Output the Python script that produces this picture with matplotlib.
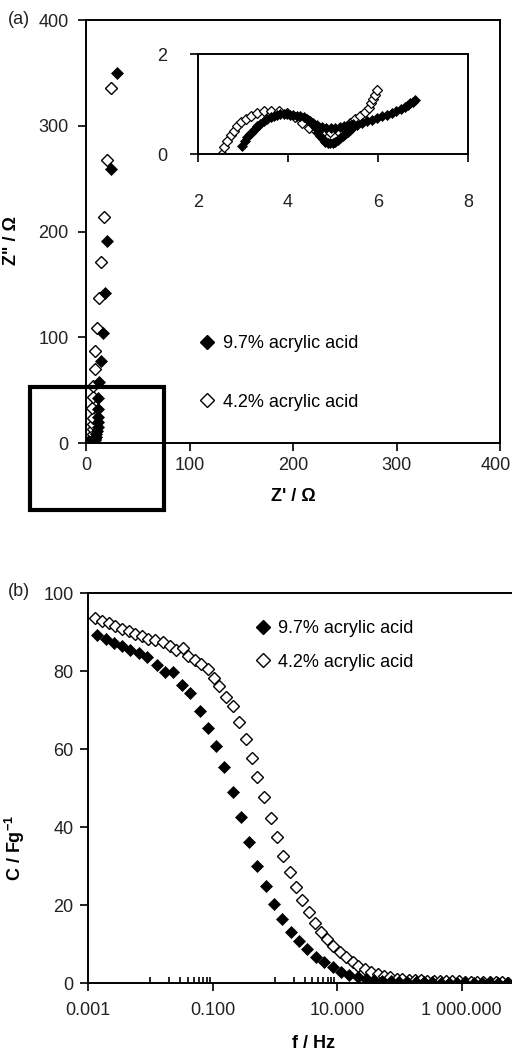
import numpy as np
import matplotlib.pyplot as plt
from matplotlib.patches import Rectangle
from matplotlib.ticker import FixedLocator, NullFormatter
from matplotlib.transforms import ScaledTranslation

plt.rcParams['font.family'] = ['Liberation Sans', 'DejaVu Sans']
plt.rcParams['font.size'] = 13
plt.rcParams['mathtext.fontset'] = 'custom'
plt.rcParams['mathtext.rm'] = 'Liberation Sans'
plt.rcParams['mathtext.bf'] = 'Liberation Sans:bold'

labels = ['9.7% acrylic acid', '4.2% acrylic acid']

# (a) Nyquist data, Z' and Z'' in ohm
z_re_97 = [2.98, 3.04, 3.09, 3.15, 3.20, 3.26, 3.31, 3.38, 3.46, 3.53, 3.61, 3.68, 3.76, 3.83,
           3.90, 3.97, 4.05, 4.12, 4.20, 4.27, 4.35, 4.42, 4.49, 4.55, 4.61, 4.67, 4.72, 4.78,
           4.83, 4.88, 4.94, 5.00, 5.05, 5.10, 5.16, 5.22, 5.27, 5.33, 5.38, 5.45, 5.53, 5.64,
           5.75, 5.86, 5.97, 6.08, 6.19, 6.30, 6.41, 6.51, 6.60, 6.66, 6.71, 6.77, 6.82,
           4.45, 4.55, 4.65, 4.75, 4.85, 4.95, 5.05, 5.15, 5.25, 5.35, 5.45,
           8.2, 8.8, 9.4, 10.0, 10.6, 11.2, 11.6, 11.8, 11.8, 11.9, 12.9, 14.5, 16.7,
           18.4, 20.6, 24.2, 29.6]
z_im_97 = [0.17, 0.27, 0.35, 0.41, 0.45, 0.51, 0.56, 0.61, 0.66, 0.71, 0.75, 0.77, 0.79, 0.80,
           0.81, 0.80, 0.79, 0.78, 0.77, 0.76, 0.74, 0.71, 0.66, 0.59, 0.52, 0.44, 0.37, 0.30,
           0.25, 0.23, 0.22, 0.23, 0.25, 0.28, 0.32, 0.36, 0.41, 0.45, 0.49, 0.54, 0.59, 0.62,
           0.66, 0.69, 0.73, 0.76, 0.79, 0.82, 0.86, 0.90, 0.94, 0.98, 1.02, 1.05, 1.08,
           0.68, 0.62, 0.58, 0.55, 0.53, 0.52, 0.53, 0.54, 0.56, 0.58, 0.60,
           2.6, 4.0, 6.0, 8.5, 11.5, 15.5, 20, 25, 32, 42.8, 57.4, 77.5, 104,
           141.5, 191, 259, 350]

z_re_42 = [2.52, 2.58, 2.65, 2.72, 2.80, 2.87, 2.96, 3.06, 3.17, 3.30, 3.46, 3.62, 3.79, 3.98,
           4.16, 4.31, 4.46, 4.62, 4.78, 4.94, 5.10, 5.25, 5.38, 5.49, 5.60, 5.71, 5.79, 5.84,
           5.88, 5.93, 5.97,
           6.6, 6.8, 6.9, 7.0, 7.0, 7.0, 6.5, 6.2, 6.3, 7.1, 8.4, 9.0, 10.3, 12.2, 14.5,
           17.4, 20.6, 24.2]
z_im_42 = [0.00, 0.15, 0.27, 0.39, 0.47, 0.56, 0.64, 0.71, 0.77, 0.83, 0.86, 0.87, 0.86, 0.83,
           0.75, 0.62, 0.52, 0.47, 0.44, 0.44, 0.47, 0.53, 0.62, 0.71, 0.76, 0.84, 0.93, 1.02,
           1.10, 1.19, 1.28,
           2.8, 4.2, 6.0, 9.0, 13, 18, 24, 33, 44, 54, 69.7, 87, 108.5, 137, 171,
           214, 268, 336]

# (b) capacitance vs frequency
f_97 = [0.00139, 0.00191, 0.00257, 0.00355, 0.00479, 0.00646, 0.00891, 0.0129, 0.0170, 0.0234,
        0.0324, 0.0437, 0.0617, 0.0832, 0.115, 0.155, 0.209, 0.282, 0.389, 0.525, 0.724, 0.977,
        1.32, 1.82, 2.45, 3.31, 4.57, 6.17, 8.51, 11.5, 15.5, 21.4, 28.8, 38.9, 52.5, 72.4,
        97.7, 132, 182, 245, 331, 457, 617, 832, 1148, 1549, 2089, 2884, 3890, 5248, 7244, 9772]
c_97 = [89.2, 88.3, 87.2, 86.3, 85.5, 84.6, 83.6, 81.5, 79.8, 79.8, 76.4, 74.4, 69.8, 65.5,
        60.8, 55.5, 49.1, 42.7, 36.1, 30.1, 25.0, 20.3, 16.5, 13.2, 10.9, 8.8, 6.8, 5.3, 4.0,
        2.9, 2.0, 1.5, 1.0, 0.7, 0.5, 0.4, 0.3, 0.3, 0.2, 0.2, 0.2, 0.1, 0.1, 0.1, 0.1, 0.0,
        0.0, 0.0, 0.0, 0.0, -0.1, -0.1]

f_42 = [0.00128, 0.00166, 0.00214, 0.00275, 0.00355, 0.00447, 0.00575, 0.00741, 0.00933,
        0.0120, 0.0162, 0.0209, 0.0263, 0.0331, 0.0407, 0.0525, 0.0661, 0.0832, 0.105, 0.129,
        0.166, 0.209, 0.269, 0.347, 0.437, 0.525, 0.661, 0.851, 1.07, 1.35, 1.74, 2.19, 2.69,
        3.47, 4.37, 5.50, 6.92, 8.71, 11.2, 13.8, 17.8, 21.9, 28.2, 35.5, 44.7, 56.2, 70.8,
        91.2, 112, 141, 178, 224, 282, 355, 447, 562, 708, 891, 1122, 1413, 1778, 2239, 2818,
        3548, 4467, 5623, 7079, 8913]
c_42 = [93.6, 92.8, 92.2, 91.5, 90.9, 90.2, 89.6, 88.9, 88.3, 87.9, 87.5, 86.3, 85.3, 85.9,
        83.8, 82.9, 81.7, 80.4, 78.1, 76.1, 73.4, 71.0, 67.0, 62.5, 57.8, 52.9, 47.6, 42.4,
        37.4, 32.7, 28.4, 24.6, 21.2, 18.1, 15.4, 13.1, 11.3, 9.4, 7.9, 6.6, 5.4, 4.4, 3.6,
        2.9, 2.3, 1.9, 1.5, 1.1, 1.0, 0.9, 0.8, 0.7, 0.6, 0.6, 0.5, 0.5, 0.4, 0.4, 0.3, 0.3,
        0.3, 0.2, 0.2, 0.2, 0.2, 0.1, 0.1, 0.1]

f_ticks = [1e-3, 1e-1, 1e1, 1e3]
f_ticklabels = ['0.001', '0.100', '10.000', '1 000.000']
f_minor = [1e-2, 2e-2, 3e-2, 4e-2, 5e-2, 6e-2, 7e-2, 8e-2, 9e-2,
           1, 2, 3, 4, 5, 6, 7, 8, 9]

lw = 1.4
tick_col = '#222222'

fig = plt.figure(figsize=(5.12, 10.55), dpi=100)

# ---- panel (a)
ax1 = fig.add_axes([0.168, 0.580, 0.809, 0.401])
ax1.plot(z_re_42, z_im_42, 'D', ms=6.3, mfc='white', mec='black', mew=1.0, ls='none')
ax1.plot(z_re_97, z_im_97, 'D', ms=6.3, mfc='black', mec='black', mew=0.5, ls='none')
ax1.set_xlim(0, 400)
ax1.set_ylim(0, 400)
ax1.set_xticks([0, 100, 200, 300, 400])
ax1.set_yticks([0, 100, 200, 300, 400])
ax1.tick_params(axis='both', direction='out', length=6, width=lw, colors=tick_col)
ax1.tick_params(axis='y', pad=6.5)
ax1.tick_params(axis='x', pad=4)
for s in ax1.spines.values():
    s.set_linewidth(lw)
ax1.set_xlabel("Z' / Ω", fontweight='bold')
ax1.set_ylabel('Z" / Ω', fontweight='bold')
ax1.xaxis.set_label_coords(0.5, -0.106)
ax1.yaxis.set_label_coords(-0.159, 0.48)
# last x label sits against the right edge, nudge it in a little
last = ax1.xaxis.get_major_ticks()[-1].label1
last.set_transform(last.get_transform() + ScaledTranslation(-3 / 72, 0, fig.dpi_scale_trans))

h97 = plt.Line2D([], [], marker='D', ms=7, mfc='black', mec='black', ls='none')
h42 = plt.Line2D([], [], marker='D', ms=7, mfc='white', mec='black', mew=1.0, ls='none')
ax1.legend([h97, h42], labels, loc='center left', bbox_to_anchor=(0.391, 0.6464),
           bbox_transform=fig.transFigure, frameon=False, handlelength=0.8,
           handletextpad=0.45, labelspacing=2.3, borderpad=0, borderaxespad=0)

# inset
axi = fig.add_axes([0.387, 0.854, 0.527, 0.0948])
axi.plot(z_re_42, z_im_42, 'D', ms=4.8, mfc='white', mec='black', mew=0.9, ls='none')
axi.plot(z_re_97, z_im_97, 'D', ms=4.8, mfc='black', mec='black', mew=0.5, ls='none')
axi.set_xlim(2, 8)
axi.set_ylim(0, 2)
axi.set_xticks([2, 4, 6, 8])
axi.set_yticks([0, 2])
axi.tick_params(axis='both', direction='out', length=6, width=lw, colors=tick_col)
axi.tick_params(axis='x', pad=23)
axi.tick_params(axis='y', pad=16.5)
for s in axi.spines.values():
    s.set_linewidth(lw)

fig.add_artist(Rectangle((0.0586, 0.5166), 0.2617, 0.1166, transform=fig.transFigure,
                         fill=False, lw=3, ec='black'))
fig.text(0.016, 1 - 20 / 1055, '(a)', va='center', ha='left', color=tick_col)

# ---- panel (b)
ax2 = fig.add_axes([0.172, 0.0682, 0.973, 0.3697])
ax2.set_xscale('log')
ax2.plot(f_42, c_42, 'D', ms=5.8, mfc='white', mec='black', mew=1.0, ls='none')
ax2.plot(f_97, c_97, 'D', ms=5.8, mfc='black', mec='black', mew=0.5, ls='none')
ax2.set_xlim(1e-3, 1e5)
ax2.set_ylim(0, 100)
ax2.set_yticks([0, 20, 40, 60, 80, 100])
ax2.xaxis.set_major_locator(FixedLocator(f_ticks))
ax2.set_xticklabels(f_ticklabels)
ax2.xaxis.set_minor_locator(FixedLocator(f_minor))
ax2.xaxis.set_minor_formatter(NullFormatter())
ax2.tick_params(axis='both', which='major', direction='out', length=6, width=lw,
                colors=tick_col)
ax2.tick_params(axis='x', which='major', pad=8)
ax2.tick_params(axis='y', which='major', pad=4.5)
ax2.tick_params(axis='x', which='minor', direction='in', length=4, width=1.2)
for s in ax2.spines.values():
    s.set_linewidth(lw)
ax2.set_xlabel('f / Hz', fontweight='bold')
ax2.set_ylabel(r'C / Fg$^{\mathbf{-1}}$', fontweight='bold')
ax2.xaxis.set_label_coords(0.452, -0.133)
ax2.yaxis.set_label_coords(-0.122, 0.346)

ax2.legend([h97, h42], labels, loc='center left', bbox_to_anchor=(0.5, 0.3881),
           bbox_transform=fig.transFigure, frameon=False, handlelength=0.8,
           handletextpad=0.4, labelspacing=0.9, borderpad=0, borderaxespad=0)
fig.text(0.016, 1 - 591 / 1055, '(b)', va='center', ha='left', color=tick_col)

fig.savefig('out.png', dpi=100)
